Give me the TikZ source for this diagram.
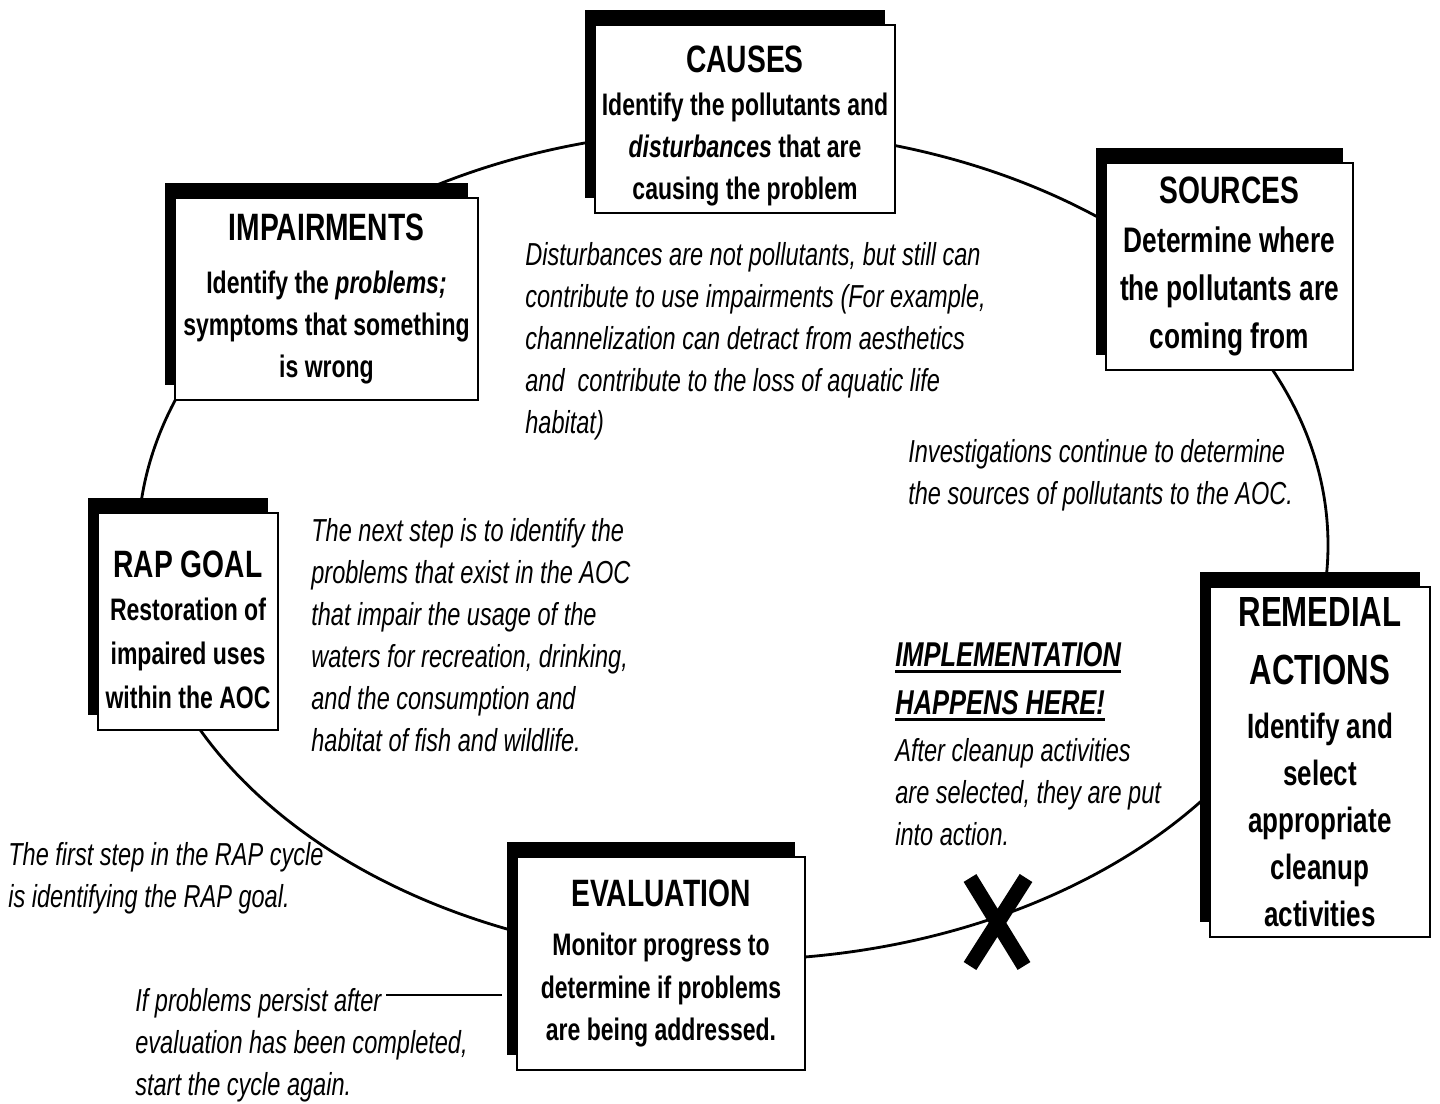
\documentclass[tikz,border=0pt]{standalone}
\usepackage{fontspec}
\newfontfamily\rapfont{Liberation Sans}[FakeStretch=0.74]
\usetikzlibrary{shadows,calc}
\newsavebox\ulbox
\newcommand{\heavyul}[1]{\sbox\ulbox{#1}\rlap{\rule[-3.6pt]{\wd\ulbox}{1.4pt}}\usebox\ulbox}
\newcommand{\stagetitle}[1]{{\fontsize{21.7}{26}\selectfont #1}}

\begin{document}
\begin{tikzpicture}[line cap=butt,line join=miter,x=0.02cm,y=-0.02cm,
		stage/.style={draw=black,line width=1.6pt,fill=white,align=center,inner sep=2pt,
			general shadow={fill=black,shadow xshift=-5.7pt,shadow yshift=8.5pt}},
		stagebody/.style={font=\rapfont\bfseries\fontsize{17.7}{23.9}\selectfont},
		note/.style={anchor=north west,align=left,inner sep=0pt,
			font=\rapfont\itshape\fontsize{18.1}{23.9}\selectfont}]
	\useasboundingbox (0,0) rectangle (1440,1104);
	% the cycle
	\draw [line width=1.6pt] (733,545) ellipse [x radius=595,y radius=415];
	\draw [line width=8.5pt] (970,878) -- (1024,966) (1026,878) -- (970,966);
	% stages
	\node [stage,stagebody,minimum width=6cm,minimum height=3.76cm] (causes) at (745,119)
		{\stagetitle{\rule{0pt}{23.2pt}CAUSES}\\[1pt] Identify the pollutants and\\ \textit{disturbances} that are\\ causing the problem};
	\node [stage,stagebody,minimum width=6.06cm,minimum height=4.04cm] (impairments) at (326.5,299)
		{\stagetitle{IMPAIRMENTS}\\[6pt] Identify the \textit{problems;}\\ symptoms that something\\ is wrong};
	\node [stage,stagebody,font=\rapfont\bfseries\fontsize{20.2}{27.3}\selectfont,minimum width=4.94cm,minimum height=4.14cm] (sources) at (1229.5,266.5)
		{\stagetitle{SOURCES}\\[1pt] Determine where\\ the pollutants are\\ coming from};
	\node [stage,stagebody,font=\rapfont\bfseries\fontsize{20}{26.7}\selectfont,minimum width=4.4cm,minimum height=7cm] (remedial) at (1320,762)
		{{\fontsize{24}{30}\selectfont REMEDIAL}\\[6.3pt] {\fontsize{24}{30}\selectfont ACTIONS}\\[4pt] Identify and\\ select\\ appropriate\\ cleanup\\ activities};
	\node [stage,stagebody,font=\rapfont\bfseries\fontsize{17.7}{24.2}\selectfont,minimum width=5.76cm,minimum height=4.26cm] (evaluation) at (661,963.5)
		{\stagetitle{EVALUATION}\\[4pt] Monitor progress to\\ determine if problems\\ are being addressed.};
	\node [stage,stagebody,font=\rapfont\bfseries\fontsize{17.7}{25}\selectfont,minimum width=3.6cm,minimum height=4.34cm] (rapgoal) at (188,621.5)
		{\stagetitle{\rule{0pt}{24.9pt}RAP GOAL}\\[-0.3pt] Restoration of\\ impaired uses\\ within the AOC};
	% notes
	\node [note] (distnote) at (525,242) {Disturbances are not pollutants, but still can\\ contribute to use impairments (For example,\\ channelization can detract from aesthetics\\ and~ contribute to the loss of aquatic life\\ habitat)};
	\node [note] (investnote) at (908,439) {Investigations continue to determine\\ the sources of pollutants to the AOC.};
	\node [note] (nextnote) at (311,518) {The next step is to identify the\\ problems that exist in the AOC\\ that impair the usage of the\\ waters for recreation, drinking,\\ and the consumption and\\ habitat of fish and wildlife.};
	\node [note,font=\rapfont\bfseries\itshape\fontsize{19.6}{27.3}\selectfont] (impltitle) at (895,642) {\heavyul{IMPLEMENTATION}\\ \heavyul{HAPPENS HERE!}};
	\node [note] (implnote) at (895,738) {After cleanup activities\\ are selected, they are put\\ into action.};
	\node [note] (firstnote) at (8,842) {The first step in the RAP cycle\\ is identifying the RAP goal.};
	\node [note] (persistnote) at (135,988) {If problems persist after\\ evaluation has been completed,\\ start the cycle again.};
	\coordinate (persistend) at (386,995);
	\draw [line width=1.5pt] (persistend) -- ($(evaluation.west |- persistend)+(-14,0)$);
\end{tikzpicture}
\end{document}
